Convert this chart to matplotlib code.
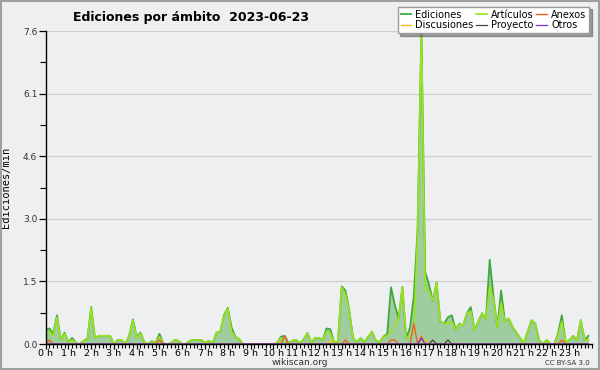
import numpy as np
import matplotlib
matplotlib.use('Agg')
import matplotlib.pyplot as plt
from matplotlib.ticker import MultipleLocator, AutoMinorLocator, FixedLocator
from matplotlib.patches import Rectangle

# edits per minute, one value every 10 minutes (144 points)
ediciones = [
    0.35, 0.38, 0.25, 0.70, 0.10, 0.28,   # 0 h
    0.05, 0.15, 0.03, 0.00, 0.08, 0.12,   # 1 h
    0.90, 0.15, 0.20, 0.20, 0.20, 0.20,   # 2 h
    0.00, 0.10, 0.10, 0.00, 0.20, 0.60,   # 3 h
    0.18, 0.28, 0.05, 0.00, 0.07, 0.03,   # 4 h
    0.25, 0.02, 0.00, 0.02, 0.10, 0.08,   # 5 h
    0.00, 0.00, 0.08, 0.10, 0.10, 0.10,   # 6 h
    0.03, 0.08, 0.02, 0.28, 0.30, 0.70,   # 7 h
    0.88, 0.40, 0.18, 0.12, 0.00, 0.00,   # 8 h
    0.00, 0.00, 0.00, 0.00, 0.00, 0.00,   # 9 h
    0.00, 0.02, 0.18, 0.20, 0.02, 0.08,   # 10 h
    0.10, 0.02, 0.12, 0.27, 0.03, 0.15,   # 11 h
    0.15, 0.10, 0.38, 0.36, 0.05, 0.05,   # 12 h
    1.40, 1.30, 0.82, 0.15, 0.05, 0.15,   # 13 h
    0.05, 0.18, 0.30, 0.08, 0.05, 0.18,   # 14 h
    0.25, 1.38, 0.95, 0.62, 1.39, 0.14,   # 15 h
    0.40, 1.15, 2.80, 7.60, 1.75, 1.45,   # 16 h
    1.05, 1.50, 0.55, 0.50, 0.65, 0.70,   # 17 h
    0.35, 0.50, 0.45, 0.75, 0.90, 0.34,   # 18 h
    0.55, 0.75, 0.60, 2.05, 1.15, 0.40,   # 19 h
    1.30, 0.55, 0.62, 0.42, 0.28, 0.15,   # 20 h
    0.03, 0.30, 0.58, 0.50, 0.10, 0.00,   # 21 h
    0.10, 0.00, 0.00, 0.25, 0.70, 0.05,   # 22 h
    0.10, 0.20, 0.10, 0.58, 0.10, 0.20,   # 23 h
]
articulos = [
    0.30, 0.30, 0.20, 0.65, 0.10, 0.25,
    0.05, 0.10, 0.03, 0.00, 0.08, 0.10,
    0.88, 0.15, 0.20, 0.20, 0.20, 0.20,
    0.00, 0.10, 0.10, 0.00, 0.20, 0.58,
    0.15, 0.26, 0.05, 0.00, 0.05, 0.03,
    0.18, 0.02, 0.00, 0.02, 0.10, 0.08,
    0.00, 0.00, 0.08, 0.10, 0.10, 0.10,
    0.03, 0.08, 0.02, 0.28, 0.30, 0.68,
    0.86, 0.30, 0.18, 0.12, 0.00, 0.00,
    0.00, 0.00, 0.00, 0.00, 0.00, 0.00,
    0.00, 0.02, 0.15, 0.02, 0.02, 0.08,
    0.10, 0.02, 0.12, 0.27, 0.03, 0.15,
    0.15, 0.10, 0.30, 0.26, 0.05, 0.05,
    1.38, 1.20, 0.80, 0.15, 0.05, 0.15,
    0.05, 0.18, 0.30, 0.08, 0.05, 0.18,
    0.20, 0.30, 0.45, 0.62, 1.39, 0.14,
    0.20, 0.30, 2.70, 7.60, 1.35, 1.30,
    1.05, 1.50, 0.55, 0.50, 0.50, 0.55,
    0.35, 0.50, 0.45, 0.75, 0.80, 0.34,
    0.55, 0.75, 0.60, 1.40, 1.10, 0.40,
    1.00, 0.55, 0.62, 0.42, 0.28, 0.15,
    0.03, 0.30, 0.58, 0.50, 0.10, 0.00,
    0.10, 0.00, 0.00, 0.20, 0.55, 0.05,
    0.10, 0.20, 0.10, 0.58, 0.10, 0.10,
]
# sparse series: {10-minute slot: value}
anexos = {1: 0.10, 30: 0.10, 63: 0.20, 79: 0.10, 91: 0.10, 92: 0.10, 97: 0.50, 99: 0.18, 136: 0.10}
discusiones = {75: 0.10, 100: 0.12}
proyecto = {102: 0.10, 106: 0.10}
otros = {99: 0.14}

hour_labels = ['%d h' % h for h in range(24)]

t = np.arange(144) / 6.0

def sparse(d):
    v = np.zeros(144)
    for k, val in d.items():
        v[k] = val
    return v

bg = '#eeeff1'
fig = plt.figure(figsize=(6, 3.7), dpi=100, facecolor=bg)
ax = fig.add_axes([0.076, 0.070, 0.911, 0.846], facecolor=bg)

ax.fill_between(t, ediciones, color='#a0cda0', lw=0)
l_ed, = ax.plot(t, ediciones, color='#3fa83f', lw=1.3)
l_art, = ax.plot(t, articulos, color='#9be31c', lw=1.2)
l_anx, = ax.plot(t, sparse(anexos), color='#f06020', lw=1.0)
l_dis, = ax.plot(t, sparse(discusiones), color='#f0c020', lw=1.0)
l_pro, = ax.plot(t, sparse(proyecto), color='#444444', lw=0.9)
l_otr, = ax.plot(t, sparse(otros), color='#7a2ee0', lw=0.9)

ax.set_xlim(0, 24)
ax.set_ylim(0, 7.6)
ax.xaxis.set_major_locator(FixedLocator(range(24)))
ax.set_xticklabels(hour_labels)
ax.xaxis.set_minor_locator(MultipleLocator(1 / 6.0))
ax.yaxis.set_major_locator(FixedLocator(np.linspace(0, 7.6, 6)))
ax.yaxis.set_major_formatter(plt.FuncFormatter(lambda v, p: '%.1f' % v))
ax.yaxis.set_minor_locator(AutoMinorLocator(2))
ax.grid(axis='y', color='#cfcfd2', lw=0.9)
ax.set_axisbelow(True)
for s in ['top', 'right']:
    ax.spines[s].set_visible(False)
ax.spines['left'].set_linewidth(1.0)
ax.spines['bottom'].set_linewidth(1.0)
ax.tick_params(axis='x', which='major', length=3.5, width=0.9, labelsize=6.8, pad=0, colors='black')
ax.tick_params(axis='x', which='minor', length=3, width=0.8)
ax.tick_params(axis='y', which='major', length=5, width=0.9, labelsize=6.5, pad=1, labelcolor='#333333')
ax.tick_params(axis='y', which='minor', length=4, width=0.8)
ax.set_ylabel('Ediciones/min', family='DejaVu Sans Mono', fontsize=7.5)
ax.yaxis.set_label_coords(-0.064, 0.5)

fig.text(0.318, 0.952, 'Ediciones por ámbito  2023-06-23', ha='center', va='center',
         fontsize=9, fontweight='bold')
fig.text(0.5, 0.020, 'wikiscan.org', ha='center', va='center', fontsize=6.5, color='#333333')
fig.text(0.983, 0.020, 'CC BY-SA 3.0', ha='right', va='center', fontsize=5, color='#333333')

leg = fig.legend([l_ed, l_dis, l_art, l_pro, l_anx, l_otr],
                 ['Ediciones', 'Discusiones', 'Artículos', 'Proyecto', 'Anexos', 'Otros'],
                 ncol=3, loc='upper right', bbox_to_anchor=(0.982, 0.982), fontsize=7,
                 frameon=True, fancybox=False, shadow=True, handlelength=1.1,
                 handletextpad=0.4, columnspacing=0.3, labelspacing=0.05,
                 borderpad=0.3, borderaxespad=0)
leg.get_frame().set_edgecolor('#999999')
leg.get_frame().set_linewidth(1.0)

fig.patches.append(Rectangle((0.002, 0.003), 0.996, 0.994, transform=fig.transFigure,
                             fill=False, edgecolor='#a0a0a0', lw=1.5))

fig.savefig('out.png', dpi=100, facecolor=bg)
